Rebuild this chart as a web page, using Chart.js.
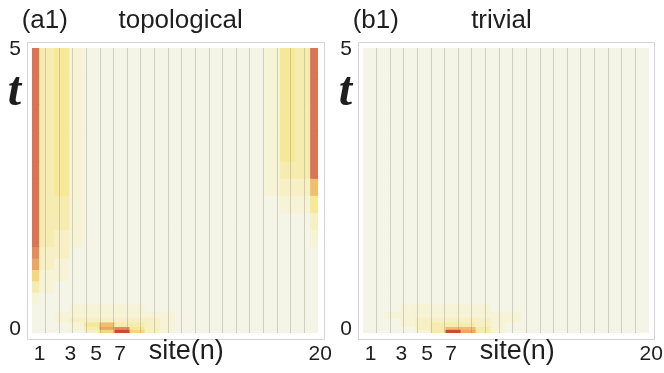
<!DOCTYPE html>
<html>
<head>
<meta charset="utf-8">
<script src="https://cdn.jsdelivr.net/npm/chart.js"></script>
<style>
  html, body { margin: 0; padding: 0; background: #fff; overflow: hidden; }
  #wrap { position: relative; width: 664px; height: 373px; }
  .frame { position: absolute; top: 42px; height: 298px; border: 1px solid #d4d4d4; box-sizing: border-box; }
  canvas { position: absolute; top: 0; }
</style>
</head>
<body>
<div id="wrap">
  <div class="frame" style="left:27px; width:298px"></div>
  <div class="frame" style="left:358px; width:297px"></div>
  <canvas id="chartA" width="338" height="373" style="left:0"></canvas>
  <canvas id="chartB" width="333" height="373" style="left:331px"></canvas>
</div>
<script>
// time bands (t), bottom to top
const timeEdges = [0, 0.05, 0.1, 0.18, 0.26, 0.36, 0.5, 0.7, 0.9, 1.1, 1.3, 1.5, 1.8, 2.1, 2.4, 2.7, 3.0, 3.5, 4.0, 4.5, 5.0];
const sites = [1, 2, 3, 4, 5, 6, 7, 8, 9, 10, 11, 12, 13, 14, 15, 16, 17, 18, 19, 20];

// intensity 0..10 for each site, one row per time band (bottom first)
const topoRows = [
  [0,0,0,0,2,5,10,5,2,1,0,0,0,0,0,0,0,0,0,0],
  [0,0,0,1,3,7,8,4,2,1,0,0,0,0,0,0,0,0,0,0],
  [0,0,0,1,4,6,3,3,2,1,0,0,0,0,0,0,0,0,0,0],
  [0,0,1,2,2,2,2,2,2,1,0,0,0,0,0,0,0,0,0,0],
  [0,0,1,1,1,1,1,1,1,1,0,0,0,0,0,0,0,0,0,0],
  [0,0,0,1,1,1,1,1,0,0,0,0,0,0,0,0,0,0,0,0],
  [1,0,0,0,0,0,0,0,0,0,0,0,0,0,0,0,0,0,0,0],
  [3,1,0,0,0,0,0,0,0,0,0,0,0,0,0,0,0,0,0,0],
  [5,1,1,0,0,0,0,0,0,0,0,0,0,0,0,0,0,0,0,0],
  [7,2,1,0,0,0,0,0,0,0,0,0,0,0,0,0,0,0,0,0],
  [8,2,2,0,0,0,0,0,0,0,0,0,0,0,0,0,0,0,0,0],
  [9,3,2,1,0,0,0,0,0,0,0,0,0,0,0,0,0,0,0,1],
  [9,3,3,1,0,0,0,0,0,0,0,0,0,0,0,0,0,0,0,2],
  [9,3,3,1,0,0,0,0,0,0,0,0,0,0,0,0,0,1,1,4],
  [9,3,4,1,0,0,0,0,0,0,0,0,0,0,0,0,1,2,2,6],
  [9,3,4,1,0,0,0,0,0,0,0,0,0,0,0,0,1,3,3,9],
  [9,3,4,1,0,0,0,0,0,0,0,0,0,0,0,0,1,4,3,9],
  [9,3,4,1,0,0,0,0,0,0,0,0,0,0,0,0,1,4,3,9],
  [9,3,4,1,0,0,0,0,0,0,0,0,0,0,0,0,1,4,3,9],
  [9,3,4,1,0,0,0,0,0,0,0,0,0,0,0,0,1,4,3,9]
];

const trivRows = [
  [0,0,0,0,1,3,10,7,3,1,0,0,0,0,0,0,0,0,0,0],
  [0,0,0,0,2,3,6,6,3,1,0,0,0,0,0,0,0,0,0,0],
  [0,0,0,1,2,3,3,3,2,1,0,0,0,0,0,0,0,0,0,0],
  [0,0,0,1,2,2,2,2,2,1,1,0,0,0,0,0,0,0,0,0],
  [0,0,1,1,1,1,1,1,1,1,1,0,0,0,0,0,0,0,0,0],
  [0,0,0,1,1,1,1,1,1,0,0,0,0,0,0,0,0,0,0,0],
  [0,0,0,0,0,0,0,0,0,0,0,0,0,0,0,0,0,0,0,0],
  [0,0,0,0,0,0,0,0,0,0,0,0,0,0,0,0,0,0,0,0],
  [0,0,0,0,0,0,0,0,0,0,0,0,0,0,0,0,0,0,0,0],
  [0,0,0,0,0,0,0,0,0,0,0,0,0,0,0,0,0,0,0,0],
  [0,0,0,0,0,0,0,0,0,0,0,0,0,0,0,0,0,0,0,0],
  [0,0,0,0,0,0,0,0,0,0,0,0,0,0,0,0,0,0,0,0],
  [0,0,0,0,0,0,0,0,0,0,0,0,0,0,0,0,0,0,0,0],
  [0,0,0,0,0,0,0,0,0,0,0,0,0,0,0,0,0,0,0,0],
  [0,0,0,0,0,0,0,0,0,0,0,0,0,0,0,0,0,0,0,0],
  [0,0,0,0,0,0,0,0,0,0,0,0,0,0,0,0,0,0,0,0],
  [0,0,0,0,0,0,0,0,0,0,0,0,0,0,0,0,0,0,0,0],
  [0,0,0,0,0,0,0,0,0,0,0,0,0,0,0,0,0,0,0,0],
  [0,0,0,0,0,0,0,0,0,0,0,0,0,0,0,0,0,0,0,0],
  [0,0,0,0,0,0,0,0,0,0,0,0,0,0,0,0,0,0,0,0]
];

const xTickPos = [1.5, 3.55, 5.25, 6.85, 11.25, 20.15];
const xTickLabels = ['1', '3', '5', '7', 'site(n)', '20'];
const yTickPos = [0.07, 4.21, 4.98];
const yTickLabels = ['0', 't', '5'];

// colour scale, pale -> yellow -> red
const palette = [
  'rgb(244,245,231)', 'rgb(246,243,214)', 'rgb(247,240,196)', 'rgb(247,236,176)',
  'rgb(246,232,150)', 'rgb(245,215,125)', 'rgb(241,190,110)', 'rgb(236,165,100)',
  'rgb(228,140,92)', 'rgb(218,116,84)', 'rgb(205,72,58)'
];

const sans = '"Liberation Sans", Arial, sans-serif';
const ink = '#1e1e1e';

const makeChart = (id, title, rows, padRight) => {
  const ctx = document.getElementById(id).getContext('2d');

  const datasets = rows.map((row, r) => ({
    data: sites.map(s => ({ x: s, y: timeEdges[r + 1] - timeEdges[r] })),
    backgroundColor: row.map(v => palette[v]),
    borderWidth: 0,
    barPercentage: 1,
    categoryPercentage: 1,
    clip: 0
  }));

  return new Chart(ctx, {
    type: 'bar',
    data: { datasets: datasets },
    options: {
      responsive: false,
      animation: false,
      events: [],
      layout: { padding: { left: 0, right: padRight, top: 0, bottom: 0 } },
      plugins: {
        legend: { display: false },
        tooltip: { enabled: false },
        title: {
          display: true,
          text: title,
          align: 'start',
          color: ink,
          font: { family: sans, size: 26, weight: 'normal', lineHeight: 1.2 },
          padding: { top: 5, bottom: 11.8 }
        }
      },
      scales: {
        x: { type: 'linear', min: 1, max: 20, stacked: true, offset: false, display: false },
        xg: {
          type: 'linear', position: 'bottom', min: 0, max: 21, offset: false,
          ticks: { display: false, stepSize: 1 },
          grid: {
            z: 1,
            offset: false,
            drawTicks: false,
            lineWidth: 1,
            color: c => (c.tick && (c.tick.value === 0 || c.tick.value === 21)) ? 'rgba(0,0,0,0)' : 'rgba(120,120,110,0.3)'
          },
          border: { display: false },
          afterFit: s => { s.height = 0; s.paddingLeft = 0; s.paddingRight = 0; }
        },
        xl: {
          type: 'linear', position: 'bottom', min: 1, max: 20, offset: false,
          grid: { display: false, drawTicks: false },
          border: { display: false },
          afterBuildTicks: s => { s.ticks = xTickPos.map(v => ({ value: v })); },
          ticks: {
            autoSkip: false,
            maxRotation: 0,
            padding: 5.5,
            color: ink,
            callback: (v, i) => xTickLabels[i],
            font: c => c.index === 4
              ? { family: sans, size: 27, lineHeight: 1 }
              : { family: sans, size: 21, lineHeight: 1.484 }
          },
          afterFit: s => { s.height = 40; s.paddingLeft = 0; s.paddingRight = 0; }
        },
        y: {
          type: 'linear', position: 'left', min: 0, max: 5, stacked: true,
          grid: { display: false, drawTicks: false },
          border: { display: false },
          afterBuildTicks: s => { s.ticks = yTickPos.map(v => ({ value: v })); },
          ticks: {
            autoSkip: false,
            padding: 11,
            color: ink,
            callback: (v, i) => yTickLabels[i],
            font: c => c.index === 1
              ? { family: '"Liberation Serif", "Times New Roman", serif', size: 48, style: 'italic', weight: 'bold' }
              : { family: sans, size: 21 }
          },
          afterFit: s => { s.width = 32; s.paddingTop = 0; s.paddingBottom = 0; }
        }
      }
    }
  });
};

makeChart('chartA', '   (a1)       topological', topoRows, 20);
makeChart('chartB', '   (b1)          trivial', trivRows, 15);
</script>
</body>
</html>
